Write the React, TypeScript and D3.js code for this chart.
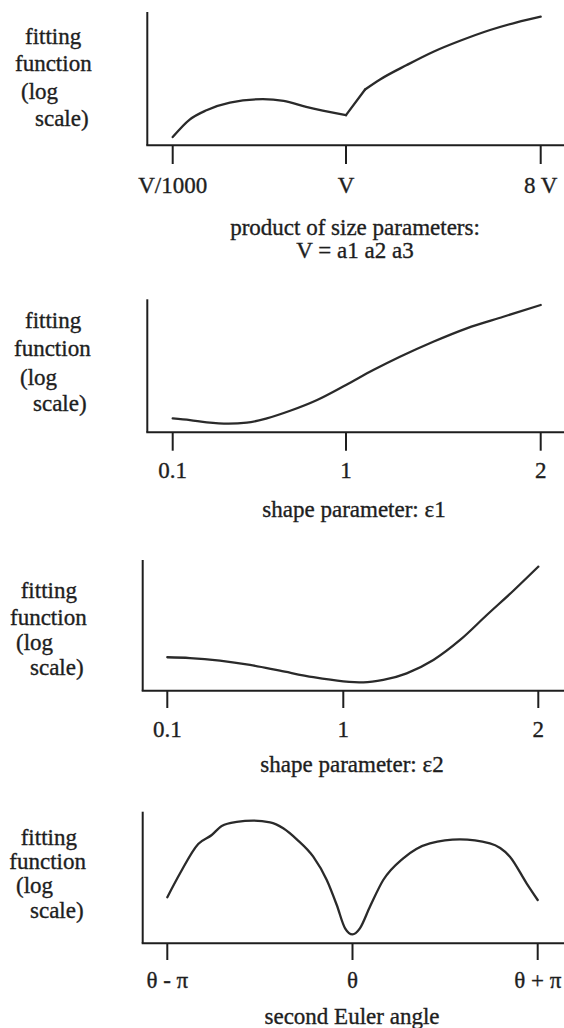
import React from "react";
import * as d3 from "d3";

// ---------- data ----------
// Panel 1: product of size parameters (x in tick units: 0 = V/1000, 1 = V, 2 = 8 V)
const sizeTicks = [0, 1, 2];
const sizeTickLabels = ["V/1000", "V", "8 V"];
const sizeX = [0, 0.098, 0.195, 0.33, 0.52, 0.64, 0.77, 1.0, 1.098, 1.175, 1.312, 1.449, 1.586, 1.74, 1.877, 2.0];
const sizeY = [6.2, 19.3, 26.3, 32.1, 34.6, 33.3, 28.8, 22.6, 41.9, 49.4, 60.2, 70.2, 78.4, 86.5, 92.3, 96.5];

// Panel 2: shape parameter e1
const e1Ticks = [0.1, 1, 2];
const e1TickLabels = ["0.1", "1", "2"];
const e1X = [0.1, 0.19, 0.277, 0.39, 0.485, 0.589, 0.71, 0.85, 1.0, 1.14, 1.277, 1.448, 1.62, 1.808, 2.0];
const e1Y = [10.5, 9.2, 7.5, 6.5, 7.2, 10.5, 16.2, 24.3, 35.6, 46.8, 56.8, 68.1, 78.2, 86.9, 95.7];

// Panel 3: shape parameter e2
const e2Ticks = [0.1, 1, 2];
const e2TickLabels = ["0.1", "1", "2"];
const e2X = [0.1, 0.216, 0.369, 0.523, 0.676, 0.847, 1.0, 1.103, 1.205, 1.325, 1.462, 1.599, 1.736, 1.872, 2.0];
const e2Y = [25.6, 25.0, 23.0, 19.7, 15.3, 10.3, 7.2, 6.4, 8.2, 13.3, 23.5, 38.8, 57.9, 76.5, 94.9];

// Panel 4: second Euler angle (x in units of pi relative to theta)
const angleTicks = [-1, 0, 1];
const angleTickLabels = ["\u03b8 - \u03c0", "\u03b8", "\u03b8 + \u03c0"];
const angleX = [-1, -0.931, -0.833, -0.76, -0.706, -0.625, -0.536, -0.445, -0.374, -0.301, -0.212, -0.139, -0.085, -0.04, 0, 0.04, 0.094, 0.166, 0.274, 0.418, 0.58, 0.742, 0.85, 0.94, 1.0];
const angleY = [35.0, 53.2, 75.5, 82.3, 89.1, 92.2, 93.2, 91.9, 87.4, 79.0, 65.8, 48.1, 29.1, 11.4, 6.8, 11.4, 27.8, 48.1, 64.6, 76.0, 79.0, 76.0, 65.8, 45.6, 32.9];

const yLabelLines = ["fitting", "function", "(log", "scale)"];

// ---------- layout ----------
const W = 564;
const H = 1028;
const FONT = "'Liberation Serif', 'Times New Roman', Times, serif";
const INK = "#1e1e1e";

type PanelCfg = {
  xs: number[];
  ys: number[];
  breaks: number[]; // indices where the curve has a kink (drawn as separate smooth pieces)
  ticks: number[];
  tickLabels: string[];
  domain: number[];
  range: number[];
  axisX: number;
  top: number;
  bottom: number;
  tickBottom: number;
  tickLabelY: number;
  titles: { text: string; y: number }[];
  titleX: number;
  labelYs: number[];
  labelXs: number[];
};

const panels: PanelCfg[] = [
  {
    xs: sizeX, ys: sizeY, breaks: [7, 8], ticks: sizeTicks, tickLabels: sizeTickLabels,
    domain: [0, 1, 2], range: [172.7, 346, 540.7],
    axisX: 147.3, top: 12, bottom: 145.3, tickBottom: 164, tickLabelY: 192.5,
    titles: [
      { text: "product of size parameters:", y: 235 },
      { text: "V = a1 a2 a3", y: 258 },
    ],
    titleX: 355,
    labelYs: [44, 70.7, 99.3, 126], labelXs: [25, 15, 21, 35],
  },
  {
    xs: e1X, ys: e1Y, breaks: [], ticks: e1Ticks, tickLabels: e1TickLabels,
    domain: [0.1, 1, 2], range: [172.7, 346, 540.7],
    axisX: 147.3, top: 299.3, bottom: 432.3, tickBottom: 450.7, tickLabelY: 478.3,
    titles: [{ text: "shape parameter: \u03b51", y: 517 }],
    titleX: 354,
    labelYs: [328, 356, 385, 411], labelXs: [25, 14, 20, 33],
  },
  {
    xs: e2X, ys: e2Y, breaks: [], ticks: e2Ticks, tickLabels: e2TickLabels,
    domain: [0.1, 1, 2], range: [167.3, 343.3, 538.3],
    axisX: 142.7, top: 560, bottom: 690.7, tickBottom: 708, tickLabelY: 737,
    titles: [{ text: "shape parameter: \u03b52", y: 772 }],
    titleX: 352,
    labelYs: [598, 625, 650, 675], labelXs: [20.7, 10, 16, 30],
  },
  {
    xs: angleX, ys: angleY, breaks: [], ticks: angleTicks, tickLabels: angleTickLabels,
    domain: [-1, 1], range: [167.3, 537.7],
    axisX: 142.7, top: 811.7, bottom: 943.3, tickBottom: 960, tickLabelY: 988.3,
    titles: [{ text: "second Euler angle", y: 1024 }],
    titleX: 352,
    labelYs: [845, 869, 893, 918], labelXs: [20.7, 9.3, 16, 30],
  },
];

const textProps = {
  fontFamily: FONT,
  fontSize: 23,
  fill: INK,
  stroke: INK,
  strokeWidth: 0.35,
};

function Panel({ p }: { p: PanelCfg }) {
  const x = d3.scaleLinear().domain(p.domain).range(p.range);
  const y = d3.scaleLinear().domain([0, 100]).range([p.bottom, p.top]);
  const pts = p.xs.map((v, i) => [v, p.ys[i]] as [number, number]);
  const line = d3
    .line<[number, number]>()
    .x((d) => x(d[0]))
    .y((d) => y(d[1]))
    .curve(d3.curveMonotoneX);
  const cuts = [0, ...p.breaks, pts.length - 1];
  const pieces: [number, number][][] = [];
  for (let i = 0; i < cuts.length - 1; i++) pieces.push(pts.slice(cuts[i], cuts[i + 1] + 1));
  return (
    <g>
      {yLabelLines.map((t, i) => (
        <text key={t} x={p.labelXs[i]} y={p.labelYs[i]} {...textProps}>
          {t}
        </text>
      ))}
      <line x1={p.axisX} y1={p.top} x2={p.axisX} y2={p.bottom} stroke={INK} strokeWidth={2} />
      <line x1={p.axisX - 1} y1={p.bottom} x2={W} y2={p.bottom} stroke={INK} strokeWidth={2} />
      {p.ticks.map((t, i) => (
        <g key={i}>
          <line x1={x(t)} y1={p.bottom} x2={x(t)} y2={p.tickBottom} stroke={INK} strokeWidth={2} />
          <text x={x(t)} y={p.tickLabelY} textAnchor="middle" {...textProps}>
            {p.tickLabels[i]}
          </text>
        </g>
      ))}
      {pieces.map((seg, i) => (
        <path
          key={i}
          d={line(seg) || ""}
          fill="none"
          stroke="#2a2a2a"
          strokeWidth={2.3}
          strokeLinejoin="round"
          strokeLinecap="round"
        />
      ))}
      {p.titles.map((t) => (
        <text key={t.text} x={p.titleX} y={t.y} textAnchor="middle" {...textProps}>
          {t.text}
        </text>
      ))}
    </g>
  );
}

export default function App() {
  return (
    <svg
      width={W}
      height={H}
      viewBox={`0 0 ${W} ${H}`}
      style={{ position: "absolute", left: 0, top: 0, background: "#ffffff" }}
    >
      <rect x={0} y={0} width={W} height={H} fill="#ffffff" />
      {panels.map((p, i) => (
        <Panel key={i} p={p} />
      ))}
    </svg>
  );
}
